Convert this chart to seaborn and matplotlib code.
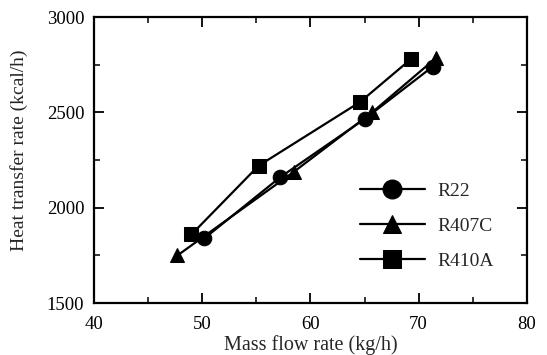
import pandas as pd
import matplotlib
matplotlib.use('Agg')
import matplotlib.pyplot as plt
from matplotlib.ticker import MultipleLocator
import seaborn as sns

# values
r22_flow = [50.2, 57.2, 65.0, 71.3]
r22_heat = [1840, 2160, 2465, 2740]
r407c_flow = [47.7, 58.5, 65.7, 71.6]
r407c_heat = [1750, 2190, 2500, 2785]
r410a_flow = [49.0, 55.2, 64.6, 69.3]
r410a_heat = [1860, 2220, 2555, 2780]

refrigerants = ['R22', 'R407C', 'R410A']

df = pd.concat([
    pd.DataFrame({'flow': r22_flow, 'heat': r22_heat, 'ref': 'R22'}),
    pd.DataFrame({'flow': r407c_flow, 'heat': r407c_heat, 'ref': 'R407C'}),
    pd.DataFrame({'flow': r410a_flow, 'heat': r410a_heat, 'ref': 'R410A'}),
], ignore_index=True)

sns.set_style('ticks')
plt.rcParams['font.family'] = ['Liberation Serif', 'DejaVu Serif']

fig = plt.figure(figsize=(5.47, 3.55), dpi=100)
ax = fig.add_axes([0.172, 0.146, 0.791, 0.806])

sns.lineplot(data=df, x='flow', y='heat', hue='ref', style='ref',
             hue_order=refrigerants, style_order=refrigerants,
             palette=['black'] * 3, markers={'R22': 'o', 'R407C': '^', 'R410A': 's'},
             dashes=False, sort=False, markersize=10.5, linewidth=1.6,
             markeredgecolor='black', ax=ax)

ax.set_xlim(40, 80)
ax.set_ylim(1500, 3000)
ax.xaxis.set_major_locator(MultipleLocator(10))
ax.xaxis.set_minor_locator(MultipleLocator(5))
ax.yaxis.set_major_locator(MultipleLocator(500))
ax.yaxis.set_minor_locator(MultipleLocator(250))
ax.tick_params(which='both', direction='in', top=True, right=True, colors='black', labelsize=13.5)
ax.tick_params(axis='x', which='major', pad=9)
ax.tick_params(axis='y', which='major', pad=7)
ax.tick_params(which='major', length=7, width=1.3)
ax.tick_params(which='minor', length=4, width=1.1)
for s in ax.spines.values():
    s.set_linewidth(1.6)
    s.set_color('black')

ax.set_xlabel('Mass flow rate (kg/h)', fontsize=14.5)
ax.set_ylabel('Heat transfer rate (kcal/h)', fontsize=14)
ax.xaxis.set_label_coords(0.5, -0.112)
ax.yaxis.set_label_coords(-0.152, 0.535)

handles, labels = ax.get_legend_handles_labels()
ax.legend(handles, labels, frameon=False, fontsize=14, handlelength=3.34,
          handletextpad=0.62, labelspacing=0.89, borderpad=0, borderaxespad=0,
          markerscale=1.3, loc='center left', bbox_to_anchor=(0.658, 0.363),
          bbox_transform=fig.transFigure)

fig.savefig('out.png', dpi=100)
